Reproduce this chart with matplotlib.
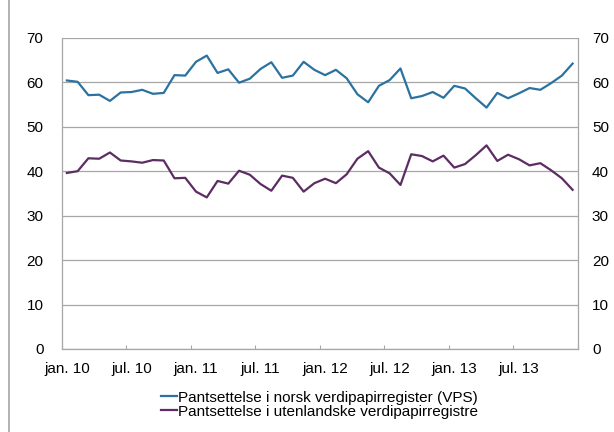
import numpy as np
import matplotlib
matplotlib.use("Agg")
import matplotlib.pyplot as plt
from matplotlib.lines import Line2D

plt.rcParams['font.family'] = ['Liberation Sans', 'DejaVu Sans']

# Monthly data, jan. 2010 - des. 2013
months = 48
tick_labels = ['jan. 10', 'jul. 10', 'jan. 11', 'jul. 11',
               'jan. 12', 'jul. 12', 'jan. 13', 'jul. 13']
vps = [60.4, 60.1, 57.1, 57.2, 55.8, 57.7, 57.8, 58.3, 57.4, 57.6, 61.6, 61.5,
       64.6, 66.0, 62.1, 62.9, 59.9, 60.8, 63.0, 64.5, 61.0, 61.5, 64.6, 62.8,
       61.6, 62.8, 60.9, 57.3, 55.5, 59.2, 60.5, 63.1, 56.4, 56.9, 57.8, 56.5,
       59.2, 58.6, 56.4, 54.3, 57.6, 56.4, 57.5, 58.7, 58.3, 59.8, 61.5, 64.2]
foreign = [39.6, 40.0, 42.9, 42.8, 44.2, 42.4, 42.2, 41.9, 42.5, 42.4, 38.4, 38.5,
           35.4, 34.1, 37.8, 37.2, 40.1, 39.2, 37.1, 35.6, 39.0, 38.5, 35.4, 37.3,
           38.3, 37.3, 39.3, 42.8, 44.5, 40.8, 39.5, 36.9, 43.8, 43.4, 42.2, 43.5,
           40.8, 41.6, 43.6, 45.8, 42.3, 43.7, 42.7, 41.3, 41.8, 40.2, 38.4, 35.8]
labels = ['Pantsettelse i norsk verdipapirregister (VPS)',
          'Pantsettelse i utenlandske verdipapirregistre']

blue = '#2b72a0'
purple = '#5c2d62'
grey = '#a6a6a6'

fig = plt.figure(figsize=(6.14, 4.32), dpi=100)
ax = fig.add_axes([61.5 / 614, 1 - 349 / 432, (578 - 61.5) / 614, (349 - 37.8) / 432])

x = np.arange(months) + 0.5
ax.plot(x, vps, color=blue, lw=1.6, label=labels[0])
ax.plot(x, foreign, color=purple, lw=1.6, label=labels[1])

ax.set_xlim(0, months)
ax.set_ylim(0, 70)
ax.set_yticks(range(0, 71, 10))
ax.grid(axis='y', color=grey, lw=0.9)
ax.set_axisbelow(True)

# ticks between categories, labels on the first month of each half-year
ax.set_xticks(np.arange(0, months + 1, 6))
ax.set_xticklabels([])
ax.set_xticks(np.arange(0, months, 6) + 0.5, minor=True)
ax.set_xticklabels(tick_labels, minor=True)
ax.tick_params(axis='x', which='major', direction='in', length=3, color=grey)
ax.tick_params(axis='x', which='minor', length=0, pad=9, labelsize=11)
ax.tick_params(axis='y', length=0, pad=13, labelsize=11)

for s in ['left', 'right', 'bottom']:
    ax.spines[s].set_color(grey)
    ax.spines[s].set_linewidth(0.9)
ax.spines['top'].set_visible(False)

ax2 = ax.twinx()
ax2.set_ylim(ax.get_ylim())
ax2.set_yticks(range(0, 71, 10))
ax2.tick_params(axis='y', length=0, pad=10, labelsize=11)
for s in ax2.spines.values():
    s.set_visible(False)

leg = ax.legend(loc='upper center', bbox_to_anchor=(0.5, -0.114), frameon=False,
                fontsize=11, handlelength=1.0, handletextpad=0.1,
                labelspacing=0.0, borderaxespad=0)

# border line on left edge of the chart
fig.add_artist(Line2D([9 / 614, 9 / 614], [0, 1], color=grey, lw=1.2))

fig.savefig('out.png', dpi=100)
